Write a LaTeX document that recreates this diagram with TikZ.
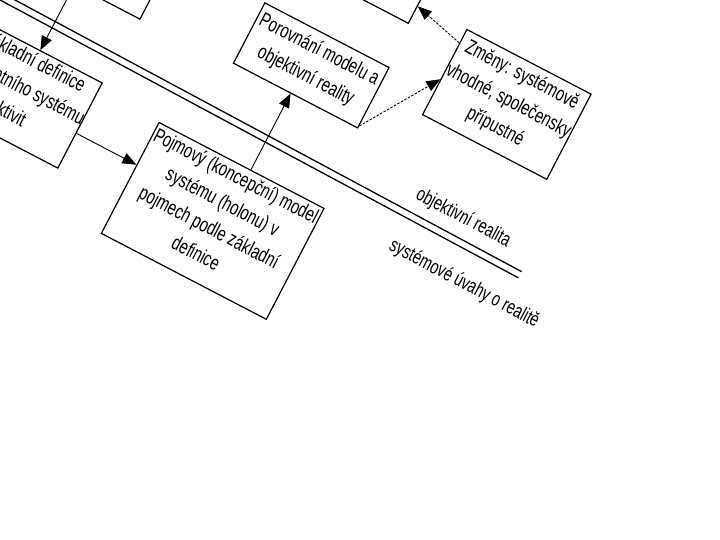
\documentclass[tikz,border=0pt]{standalone}
\usepackage{fontspec}
\setmainfont[FakeStretch=0.72]{Liberation Sans}
\usetikzlibrary{arrows.meta,calc}
\begin{document}
\begin{tikzpicture}[x=1pt,y=-1pt,
  box/.style={draw, line width=1.2pt, rotate=-27.5, inner sep=0pt},
  txt/.style={rotate=-27.5, inner sep=0pt, align=center, anchor=north, font=\fontsize{20.5}{29}\selectfont},
  arr/.style={-{Triangle[length=14pt,width=11pt]}, line width=0.9pt},
  darr/.style={arr, dash pattern=on 2.5pt off 1.5pt},
  lbl/.style={rotate=-28, inner sep=0pt, font=\fontsize{20}{29}\selectfont},
  dline/.style={line width=1.3pt}]
\useasboundingbox (0,0) rectangle (720,540);
\fill[white] (0,0) rectangle (720,540);
\begin{scope}
\clip (0,0) rectangle (720,540);
% boxes
\node[box, minimum width=148pt, minimum height=96pt] (tl) at (96.5,-57.6) {};
\node[box, minimum width=140pt, minimum height=96pt] (tm) at (368.4,-51.6) {};
\node[box, minimum width=140pt, minimum height=96pt] (zak) at (17.9,93.2) {};
\node[box, minimum width=186pt, minimum height=125pt] (poj) at (212.7,220.9) {};
\node[box, minimum width=140pt, minimum height=68pt] (por) at (311.25,65.4) {};
\node[box, minimum width=140pt, minimum height=96pt] (zm) at (506.85,104.4) {};
% texts
\node[txt] (zakt) at ($(zak.north)!3.2pt!(zak.south)$) {\rule{0pt}{15.5pt}Základní definice\\relevantního systému\\aktivit};
\node[txt] (pojt) at ($(poj.north)!3.6pt!(poj.south)$) {\rule{0pt}{15.5pt}Pojmový (koncepční) model\\systému (holonu) v\\pojmech podle základní\\definice};
\node[txt] (port) at ($(por.north)!7.4pt!(por.south)$) {\rule{0pt}{15.5pt}Porovnání modelu a\\objektivní reality};
\node[txt] (zmt) at ($(zm.north)!5.8pt!(zm.south)$) {\rule{0pt}{15.5pt}Změny: systémově\\vhodné, společensky\\přípustné};
% double line
\coordinate (ua) at (-10,-13.4);
\coordinate (ub) at (521.7,271.7);
\coordinate (la) at (-10,-5.4);
\coordinate (lb) at (518.3,277.8);
\draw[dline] (ua) -- (ub);
\draw[dline] (la) -- (lb);
\node[lbl] (objr) at (463.3,218) {objektivní realita};
\node[lbl] (sysu) at (464.2,284) {systémové úvahy o realitě};
% connectors
\draw[arr] (tl.south) -- (zak.north);
\draw[arr] ($(zak.east)!8.6pt!(zak.south east)$) -- ($(poj.west)!14.6pt!(poj.north west)$);
\draw[arr] ($(poj.north)!10.3pt!(poj.north east)$) -- ($(por.south)!5.3pt!(por.south west)$);
\draw[darr] ($(por.south east)!3pt!(por.north east)$) -- ($(zm.north west)!57pt!(zm.south west)$);
\draw[darr] ($(zm.north west)!16pt!(zm.south west)$) -- ($(tm.south east)!20pt!(tm.north east)$);
\end{scope}
\end{tikzpicture}
\end{document}
